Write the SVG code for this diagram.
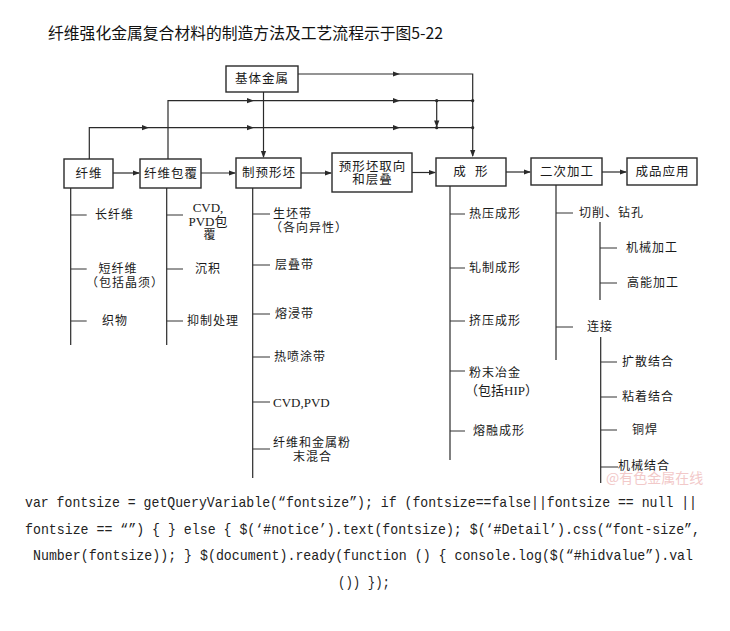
<svg xmlns="http://www.w3.org/2000/svg" width="730" height="631" viewBox="0 0 730 631">
<style>
  .bg{fill:#ffffff}
  .box{fill:#ffffff;stroke:#2a2a2a;stroke-width:1.4}
  .ln{fill:none;stroke:#2a2a2a;stroke-width:1.2}
  .tk{fill:none;stroke:#333;stroke-width:1}
  .ah{fill:#2a2a2a}
  .bt{font-family:"Liberation Serif","Noto Sans CJK SC",serif;font-size:12.5px;letter-spacing:1px;fill:#1a1a1a;dominant-baseline:central}
  .lt{font-family:"Liberation Serif","Noto Sans CJK SC",serif;font-size:12px;letter-spacing:1px;fill:#1a1a1a;dominant-baseline:central}
  .ct{font-family:"Liberation Serif","Noto Sans CJK SC",serif;font-size:13px;fill:#1a1a1a;dominant-baseline:central}
  .title{font-family:"Noto Sans CJK SC",sans-serif;font-size:15.8px;fill:#111}
  .code{font-family:"Liberation Mono",monospace;font-size:15px;fill:#222}
  .wm{font-family:"Noto Sans CJK SC",sans-serif;font-size:14px;fill:#f2c9c9}
</style>
<defs>
  <path id="tri" d="M0,0 L-7,-2.6 L-7,2.6 Z"/>
</defs>
<rect class="bg" x="0" y="0" width="730" height="631"/>

<text class="title" x="48" y="39">纤维强化金属复合材料的制造方法及工艺流程示于图5-22</text>

<g id="connectors">
  <path class="ln" d="M298,74 H472.7 V156"/>
  <path class="ln" d="M168,159 V100.7 H472.7"/>
  <path class="ln" d="M89.3,159 V127.7 H472.7"/>
  <path class="ln" d="M436.7,100.7 V126"/>
  <path class="ln" d="M263.5,92 V157"/>
  <g class="ah">
    <use href="#tri" transform="translate(400,74)"/>
    <use href="#tri" transform="translate(254,100.7)"/>
    <use href="#tri" transform="translate(400,100.7)"/>
    <use href="#tri" transform="translate(149,127.7)"/>
    <use href="#tri" transform="translate(254,127.7)"/>
    <use href="#tri" transform="translate(400,127.7)"/>
    <use href="#tri" transform="translate(472.7,157) rotate(90)"/>
    <use href="#tri" transform="translate(436.7,127.5) rotate(90)"/>
    <use href="#tri" transform="translate(263.5,158) rotate(90)"/>
    <circle cx="436.7" cy="100.7" r="1.6"/>
    <circle cx="472.7" cy="100.7" r="1.6"/>
    <circle cx="436.7" cy="127.7" r="1.6"/>
    <circle cx="472.7" cy="127.7" r="1.6"/>
  </g>
  <path class="ln" d="M113,173 H139"/>
  <path class="ln" d="M201,173 H235"/>
  <path class="ln" d="M301,173 H331"/>
  <path class="ln" d="M412,172.5 H435"/>
  <path class="ln" d="M506,172 H530"/>
  <path class="ln" d="M602,172 H626"/>
  <g class="ah">
    <use href="#tri" transform="translate(140,173)"/>
    <use href="#tri" transform="translate(236,173)"/>
    <use href="#tri" transform="translate(332,173)"/>
    <use href="#tri" transform="translate(436,172.5)"/>
    <use href="#tri" transform="translate(531,172)"/>
    <use href="#tri" transform="translate(627,172)"/>
  </g>
  <path class="ln" d="M70.7,188 V345"/>
  <path class="ln" d="M166.7,188 V345"/>
  <path class="ln" d="M252.7,188 V478"/>
  <path class="ln" d="M450,186 V460"/>
  <path class="ln" d="M556,185 V360"/>
  <path class="ln" d="M600,222 V300"/>
  <path class="ln" d="M600.7,337 V483"/>
  <path class="tk" d="M70.7,215 H86.7 M70.7,269 H86.7 M70.7,321 H86.7"/>
  <path class="tk" d="M166.7,215 H183 M166.7,269 H183 M166.7,321 H183"/>
  <path class="tk" d="M252.7,214 H270 M252.7,265 H270 M252.7,314 H270 M252.7,357 H270 M252.7,402 H270 M252.7,449 H270"/>
  <path class="tk" d="M450,214 H465 M450,268 H465 M450,321 H465 M450,371 H465 M450,431 H465"/>
  <path class="tk" d="M556,213 H573 M556,327 H573"/>
  <path class="tk" d="M600,248 H617 M600,283 H617"/>
  <path class="tk" d="M600.7,362 H617 M600.7,397 H617 M600.7,430 H617 M600.7,467 H618"/>
</g>

<g id="n-jiti">
  <rect class="box" x="226" y="66" width="72" height="26"/>
  <text class="bt" x="262" y="79" text-anchor="middle">基体金属</text>
</g>
<g id="n-xianwei">
  <rect class="box" x="64" y="159" width="49" height="29"/>
  <text class="bt" x="89" y="173.5" text-anchor="middle">纤维</text>
</g>
<g id="n-baofu">
  <rect class="box" x="140" y="159" width="61" height="29"/>
  <text class="bt" x="171" y="173.5" text-anchor="middle">纤维包覆</text>
</g>
<g id="n-yuxingpi">
  <rect class="box" x="236" y="158" width="65" height="30"/>
  <text class="bt" x="269" y="173" text-anchor="middle">制预形坯</text>
</g>
<g id="n-quxiang">
  <rect class="box" x="332" y="153" width="80" height="39"/>
  <text class="bt" x="372.5" y="166.5" text-anchor="middle">预形坯取向</text>
  <text class="bt" x="372.5" y="179.5" text-anchor="middle">和层叠</text>
</g>
<g id="n-chengxing">
  <rect class="box" x="436" y="158" width="70" height="28"/>
  <text class="bt" x="471" y="172" text-anchor="middle" xml:space="preserve">成  形</text>
</g>
<g id="n-erci">
  <rect class="box" x="531" y="158" width="71" height="27"/>
  <text class="bt" x="567" y="171.5" text-anchor="middle">二次加工</text>
</g>
<g id="n-chengpin">
  <rect class="box" x="627" y="158" width="70" height="27"/>
  <text class="bt" x="662.5" y="171.5" text-anchor="middle">成品应用</text>
</g>

<g id="items-xianwei">
  <text class="lt" x="95" y="215">长纤维</text>
  <text class="lt" x="118" y="269" text-anchor="middle">短纤维</text>
  <text class="lt" x="125" y="283" text-anchor="middle" letter-spacing="0">（包括晶须）</text>
  <text class="lt" x="102" y="321">织物</text>
</g>
<g id="items-baofu">
  <text class="ct" x="208" y="207" text-anchor="middle">CVD,</text>
  <text class="ct" x="208" y="221.5" text-anchor="middle">PVD包</text>
  <text class="lt" x="210" y="235" text-anchor="middle">覆</text>
  <text class="lt" x="195" y="269">沉积</text>
  <text class="lt" x="187" y="321">抑制处理</text>
</g>
<g id="items-yuxingpi">
  <text class="lt" x="273" y="214">生坯带</text>
  <text class="lt" x="270" y="228" letter-spacing="0">（各向异性）</text>
  <text class="lt" x="275" y="265">层叠带</text>
  <text class="lt" x="275" y="314">熔浸带</text>
  <text class="lt" x="274" y="357">热喷涂带</text>
  <text class="ct" x="273" y="402">CVD,PVD</text>
  <text class="lt" x="273" y="443">纤维和金属粉</text>
  <text class="lt" x="293" y="457">末混合</text>
</g>
<g id="items-chengxing">
  <text class="lt" x="469" y="214">热压成形</text>
  <text class="lt" x="469" y="268">轧制成形</text>
  <text class="lt" x="469" y="321">挤压成形</text>
  <text class="lt" x="469" y="373">粉末冶金</text>
  <text class="ct" x="465" y="390">（包括HIP）</text>
  <text class="lt" x="473" y="431">熔融成形</text>
</g>
<g id="items-erci">
  <text class="lt" x="579" y="213">切削、钻孔</text>
  <text class="lt" x="626" y="248">机械加工</text>
  <text class="lt" x="627" y="283">高能加工</text>
  <text class="lt" x="587" y="327">连接</text>
  <text class="lt" x="622" y="362">扩散结合</text>
  <text class="lt" x="622" y="397">粘着结合</text>
  <text class="lt" x="632" y="430">铜焊</text>
  <text class="lt" x="618" y="466">机械结合</text>
</g>

<text class="wm" x="606" y="483">@有色金属在线</text>

<g id="code">
  <text class="code" x="25" y="507" textLength="672" lengthAdjust="spacingAndGlyphs">var fontsize = getQueryVariable(“fontsize”); if (fontsize==false||fontsize == null ||</text>
  <text class="code" x="25" y="533.5" textLength="675" lengthAdjust="spacingAndGlyphs">fontsize == “”) { } else { $(‘#notice’).text(fontsize); $(‘#Detail’).css(“font-size”,</text>
  <text class="code" x="33" y="560" textLength="660" lengthAdjust="spacingAndGlyphs">Number(fontsize)); } $(document).ready(function () { console.log($(“#hidvalue”).val</text>
  <text class="code" x="338" y="587" textLength="52" lengthAdjust="spacingAndGlyphs">()) });</text>
</g>
</svg>
